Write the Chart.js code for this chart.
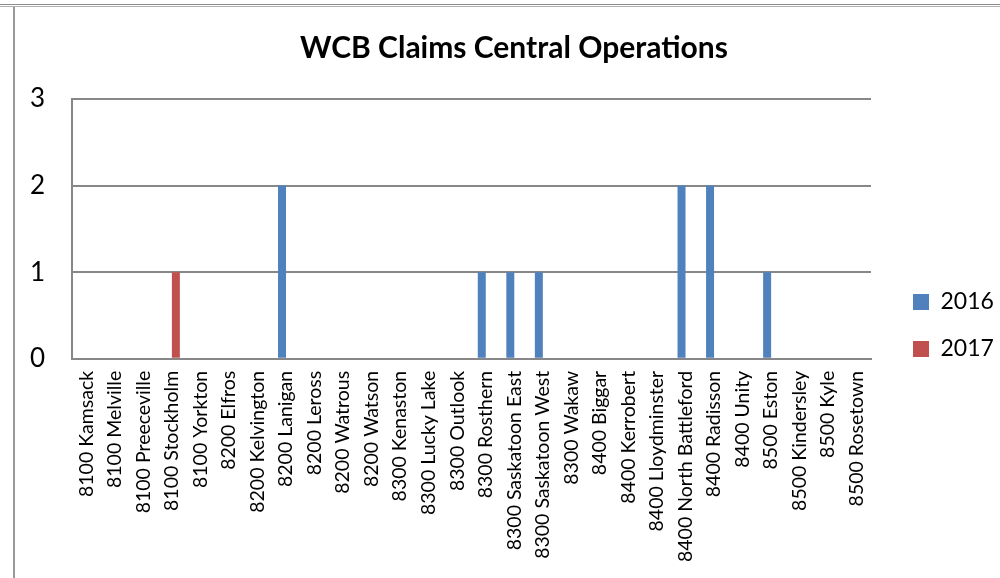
<!DOCTYPE html>
<html>
<head>
<meta charset="utf-8">
<script src="https://cdn.jsdelivr.net/npm/chart.js@4"></script>
<style>
    html, body { margin: 0; padding: 0; background: #fff; }
    #wrap { position: relative; width: 1000px; height: 578px; }
    .frame-top { position: absolute; left: 0; top: 4px; width: 1000px; height: 1px; border-top: 1px solid #8c8c8c; border-bottom: 1px solid #b0b0b0; }
    .frame-left { position: absolute; left: 13px; top: 7px; width: 2px; height: 571px; background: #999; }
    #chart { position: absolute; left: 0; top: 0; }
</style>
</head>
<body>
<div id="wrap">
    <div class="frame-top"></div>
    <div class="frame-left"></div>
    <canvas id="chart" width="1000" height="578"></canvas>
</div>
<script>
const offices = [
    '8100 Kamsack', '8100 Melville', '8100 Preeceville', '8100 Stockholm', '8100 Yorkton',
    '8200 Elfros', '8200 Kelvington', '8200 Lanigan', '8200 Leross', '8200 Watrous',
    '8200 Watson', '8300 Kenaston', '8300 Lucky Lake', '8300 Outlook', '8300 Rosthern',
    '8300 Saskatoon East', '8300 Saskatoon West', '8300 Wakaw', '8400 Biggar', '8400 Kerrobert',
    '8400 Lloydminster', '8400 North Battleford', '8400 Radisson', '8400 Unity', '8500 Eston',
    '8500 Kindersley', '8500 Kyle', '8500 Rosetown'
];
const claims2016 = [0, 0, 0, 0, 0, 0, 0, 2, 0, 0, 0, 0, 0, 0, 1, 1, 1, 0, 0, 0, 0, 2, 2, 0, 1, 0, 0, 0];
const claims2017 = [0, 0, 0, 1, 0, 0, 0, 0, 0, 0, 0, 0, 0, 0, 0, 0, 0, 0, 0, 0, 0, 0, 0, 0, 0, 0, 0, 0];
const yTicks = [0, 1, 2, 3];

const gridGray = '#878787';
const fontFamily = 'Lato, "Liberation Sans", sans-serif';

const ctx = document.getElementById('chart').getContext('2d');
new Chart(ctx, {
    type: 'bar',
    data: {
        labels: offices,
        datasets: [
            { label: '2016', data: claims2016, backgroundColor: '#4f81bd' },
            { label: '2017', data: claims2017, backgroundColor: '#c0504d' }
        ]
    },
    options: {
        responsive: false,
        animation: false,
        layout: { padding: { left: 28, right: 0, top: 16, bottom: 4 } },
        datasets: {
            bar: { categoryPercentage: 0.56, barPercentage: 1 }
        },
        plugins: {
            title: {
                display: true,
                text: 'WCB Claims Central Operations',
                color: '#000',
                font: { family: fontFamily, size: 30, weight: 'bold' },
                padding: { top: 14, bottom: 33 }
            },
            legend: {
                position: 'right',
                maxWidth: 111,
                // empty legend title only pushes the items down to sit beside the lower plot
                title: { display: true, text: '', font: { size: 10 }, padding: { top: 49, bottom: 0 } },
                labels: {
                    color: '#000',
                    font: { family: fontFamily, size: 23 },
                    boxWidth: 16,
                    boxHeight: 16,
                    padding: 24
                }
            },
            tooltip: { enabled: false }
        },
        scales: {
            y: {
                min: 0,
                max: 3,
                afterBuildTicks: axis => { axis.ticks = yTicks.map(v => ({ value: v })); },
                afterFit: axis => { axis.width = 44; },
                ticks: {
                    color: '#000',
                    font: { family: fontFamily, size: 26 },
                    padding: 27
                },
                grid: { color: gridGray, lineWidth: 2, drawTicks: false },
                border: { color: gridGray, width: 2 }
            },
            // empty axis on the right keeps a gap between plot and legend
            gap: {
                type: 'linear',
                position: 'right',
                afterFit: axis => { axis.width = 18; },
                ticks: { display: false },
                grid: { display: false, drawTicks: false },
                border: { display: false }
            },
            x: {
                ticks: {
                    color: '#000',
                    font: { family: fontFamily, size: 19.5 },
                    minRotation: 90,
                    maxRotation: 90,
                    autoSkip: false,
                    padding: 12
                },
                grid: { display: false, drawTicks: false },
                border: { color: gridGray, width: 2 }
            }
        }
    }
});
</script>
</body>
</html>
